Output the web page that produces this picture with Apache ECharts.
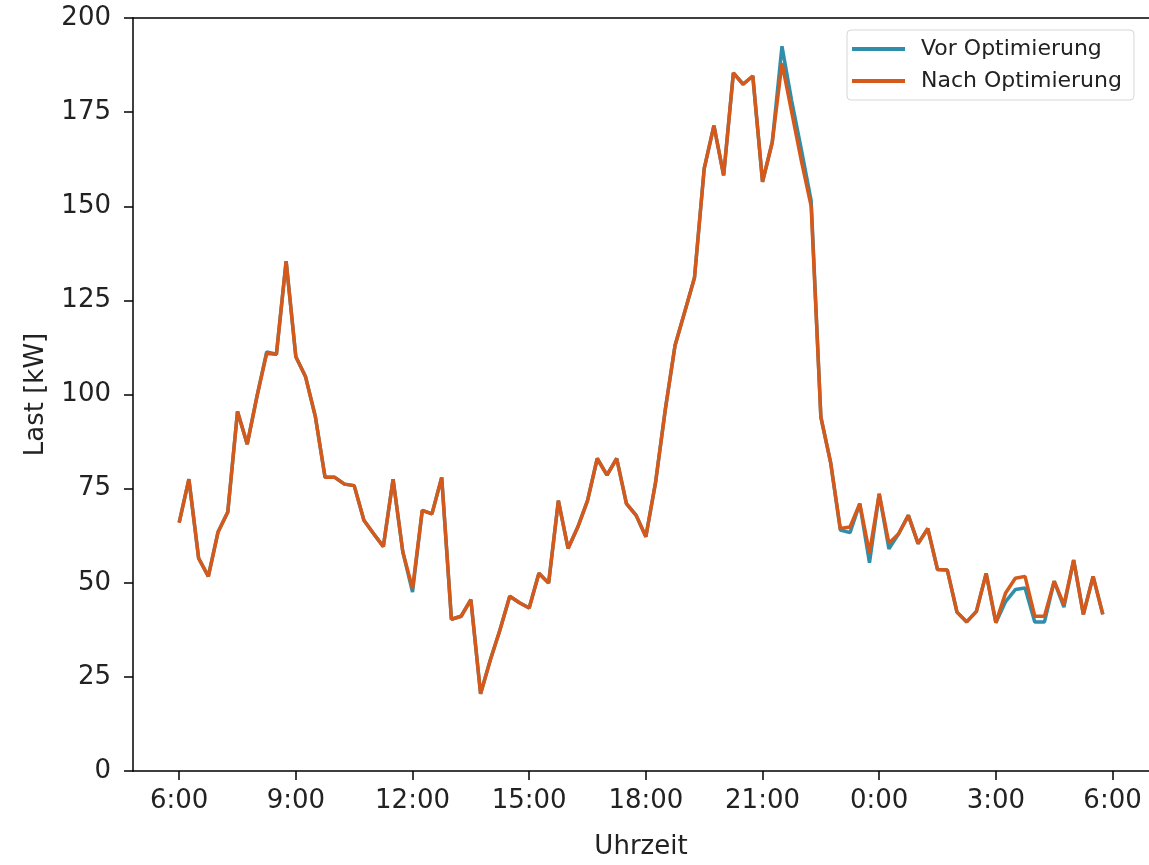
<!DOCTYPE html>
<html>
<head>
<meta charset="utf-8">
<script src="https://cdn.jsdelivr.net/npm/echarts@6/dist/echarts.min.js"></script>
<style>html,body{margin:0;padding:0;background:#fff;}#c{width:1149px;height:865px;}</style>
</head>
<body>
<div id="c"></div>
<script>
// Time step: 15 minutes, starting at 6:00 (hours, continuing past 24)
const startHour = 6;
const stepHours = 0.25;
const xTickHours = [6, 9, 12, 15, 18, 21, 24, 27, 30];
const yTicks = [0, 25, 50, 75, 100, 125, 150, 175, 200];

const seriesNames = ['Vor Optimierung', 'Nach Optimierung'];

const vorOptimierung = [
  66, 77.5, 56.5, 51.7, 63.5, 68.8, 95.5, 86.8, 99.5, 111.3,
  110.7, 135.4, 110, 104.7, 94.2, 78, 78, 76.2, 75.8, 66.6,
  63, 59.6, 77.5, 58.2, 47.5, 69.2, 68.3, 78, 40.3, 41.1,
  45.5, 20.5, 29.5, 37.5, 46.4, 44.7, 43.3, 52.5, 49.9, 71.8,
  59.1, 64.8, 71.8, 83, 78.6, 83, 71, 67.9, 62.2, 76.7,
  96, 113, 122, 131, 160, 171.4, 158.2, 185.4, 182.4, 184.6,
  156.5, 167, 192.5, 178, 165, 151.5, 94, 82, 64, 63.3,
  71, 55.3, 73.6, 59, 63, 67.9, 60.4, 64.4, 53.5, 53.4,
  42.2, 39.6, 42.4, 52.5, 39.4, 45, 48.2, 48.6, 39.6, 39.6,
  50.4, 43.5, 56, 41.6, 51.7, 41.6
];

const nachOptimierung = [
  66, 77.5, 56.5, 51.7, 63.5, 68.8, 95.5, 86.8, 99.5, 110.9,
  110.7, 135.4, 110, 104.7, 94.2, 78, 78, 76.2, 75.8, 66.6,
  63, 59.6, 77.5, 58.2, 48.5, 69.2, 68.3, 78, 40.3, 41.1,
  45.5, 20.5, 29.5, 37.5, 46.4, 44.7, 43.3, 52.5, 49.9, 71.8,
  59.1, 64.8, 71.8, 83, 78.6, 83, 71, 67.9, 62.2, 76.7,
  96, 113, 122, 131, 160, 171.4, 158.2, 185.4, 182.4, 184.6,
  156.5, 167, 188, 175, 162, 150, 94, 82, 64.4, 64.8,
  71, 57.9, 73.6, 60.5, 63, 67.9, 60.4, 64.4, 53.5, 53.4,
  42.2, 39.6, 42.4, 52.5, 39.4, 47.3, 51.2, 51.7, 41.1, 41.1,
  50.4, 44.2, 56, 41.6, 51.7, 41.6
];

const hours = vorOptimierung.map((_, i) => startHour + i * stepHours);
const toPairs = arr => arr.map((v, i) => [hours[i], v]);

const first = hours[0], last = hours[hours.length - 1];
const pad = (last - first) * 0.05;

const font = 'DejaVu Sans';
const chart = echarts.init(document.getElementById('c'), null, {renderer: 'canvas'});
chart.setOption({
  animation: false,
  backgroundColor: '#fff',
  grid: {left: 133, top: 18, width: 1019, height: 760, show: false, containLabel: false},
  legend: {
    orient: 'vertical', left: 847, top: 30,
    padding: [8, 12, 8, 5],
    itemWidth: 53, itemHeight: 4, itemGap: 10,
    borderColor: '#d6d6d6', borderWidth: 1, borderRadius: 4, backgroundColor: '#fff',
    textStyle: {fontFamily: font, fontSize: 22, color: '#222', padding: [0, 0, 0, 11]},
    data: [{name: seriesNames[0], icon: 'rect'}, {name: seriesNames[1], icon: 'rect'}]
  },
  xAxis: [{
    type: 'value', min: first - pad, max: last + pad,
    name: 'Uhrzeit', nameLocation: 'middle', nameGap: 63,
    nameTextStyle: {fontFamily: font, fontSize: 26, color: '#222'},
    axisLine: {show: true, lineStyle: {color: '#000', width: 1.5}},
    axisTick: {show: true, customValues: xTickHours, length: 9, lineStyle: {color: '#000', width: 1.5}},
    axisLabel: {customValues: xTickHours, margin: 17, fontFamily: font, fontSize: 26, color: '#222',
      formatter: v => (Math.round(v) % 24) + ':00'},
    splitLine: {show: false}
  }, {
    type: 'value', position: 'top', min: first - pad, max: last + pad,
    axisLine: {show: true, onZero: false, lineStyle: {color: '#000', width: 1.5}},
    axisTick: {show: false}, axisLabel: {show: false}, splitLine: {show: false}
  }],
  yAxis: {
    type: 'value', min: 0, max: 200, interval: 25,
    name: 'Last [kW]', nameLocation: 'middle', nameGap: 84,
    nameTextStyle: {fontFamily: font, fontSize: 26, color: '#222'},
    axisLine: {show: true, lineStyle: {color: '#000', width: 1.5}},
    axisTick: {show: true, length: 9, lineStyle: {color: '#000', width: 1.5}},
    axisLabel: {margin: 22, fontFamily: font, fontSize: 26, color: '#222'},
    splitLine: {show: false}
  },
  series: [
    {name: seriesNames[0], type: 'line', data: toPairs(vorOptimierung), showSymbol: false, symbol: 'none',
     lineStyle: {color: '#2f8fab', width: 3.5}, itemStyle: {color: '#2f8fab'}, z: 2},
    {name: seriesNames[1], type: 'line', data: toPairs(nachOptimierung), showSymbol: false, symbol: 'none',
     lineStyle: {color: '#d4591b', width: 3.5}, itemStyle: {color: '#d4591b'}, z: 3}
  ]
});
</script>
</body>
</html>
